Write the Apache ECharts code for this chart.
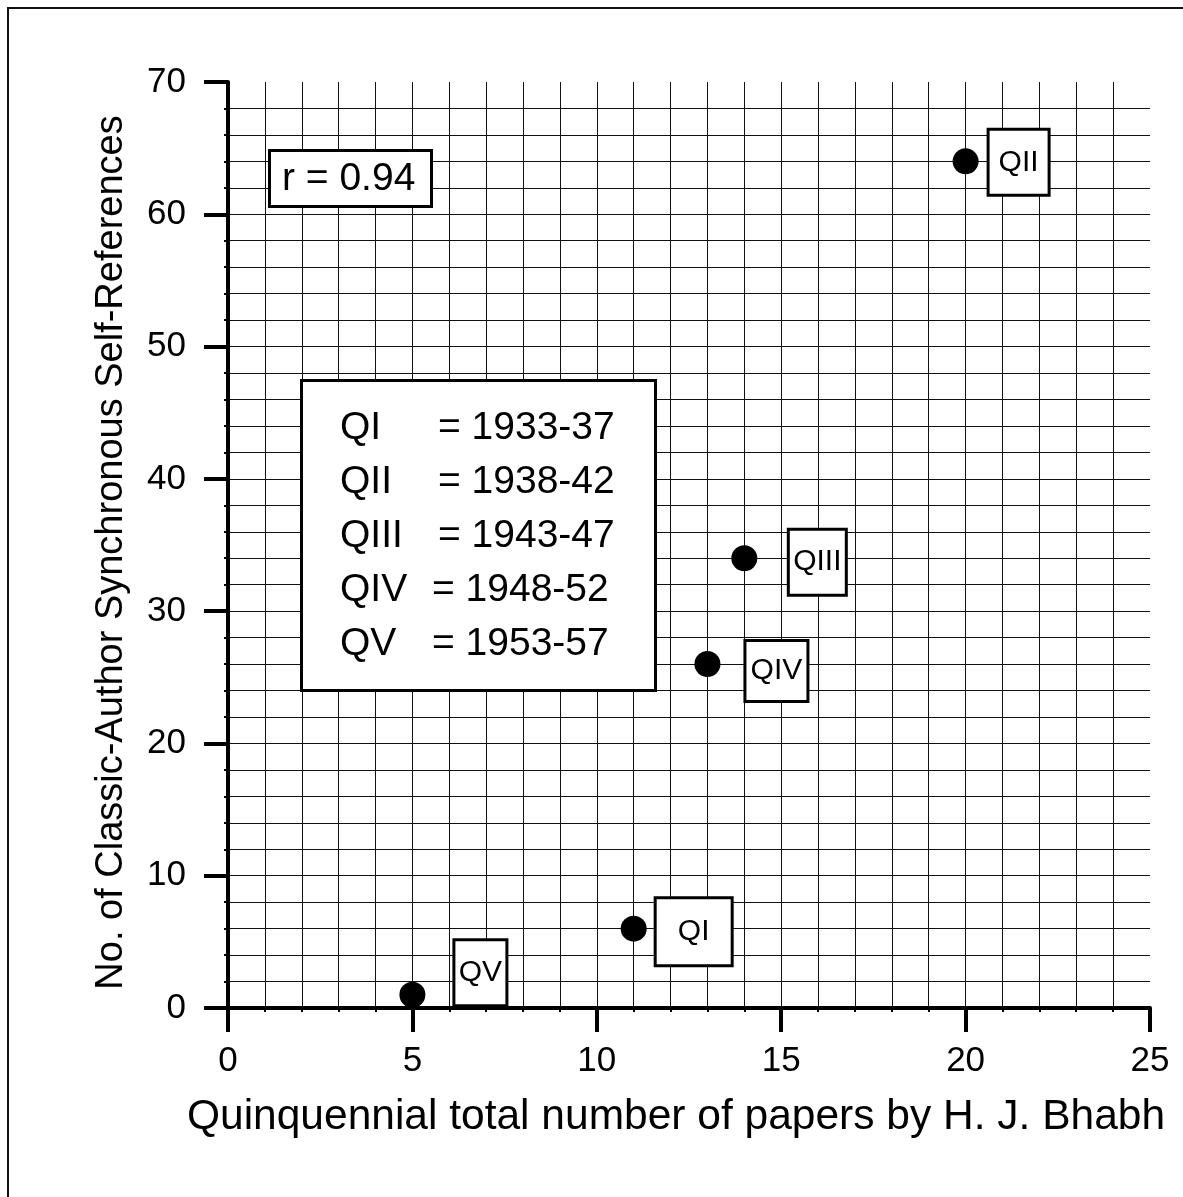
<!DOCTYPE html>
<html><head><meta charset="utf-8">
<script src="https://cdn.jsdelivr.net/npm/echarts@6/dist/echarts.min.js"></script>
<style>html,body{margin:0;padding:0;background:#fff}#c{width:1183px;height:1197px}</style>
</head><body><div id="c"></div><script>
// ---- data ----
const periods = ['QI', 'QII', 'QIII', 'QIV', 'QV'];
const papers = [11, 20, 14, 13, 5];
const selfRefs = [6, 64, 34, 26, 1];
const periodYears = ['1933-37', '1938-42', '1943-47', '1948-52', '1953-57'];
const rText = 'r = 0.94';
const xName = 'Quinquennial total number of papers by H. J. Bhabh';
const yName = 'No. of Classic-Author Synchronous Self-References';
const xMin = 0, xMax = 25, xStep = 5;
const yMin = 0, yMax = 70, yStep = 10;

// ---- styling (label box offsets from point centre, box outer size) ----
const boxStyle = {
  QI:   {dx: 60, dy: 3,   w: 77, h: 68},
  QII:  {dx: 53, dy: 1,   w: 61, h: 66},
  QIII: {dx: 73, dy: 4,   w: 58, h: 66},
  QIV:  {dx: 69, dy: 7,   w: 63, h: 61},
  QV:   {dx: 68, dy: -22, w: 53, h: 66}
};
const FONT = '"Liberation Sans", Arial, sans-serif';
const SYM = 26;

const seriesData = periods.map((p, i) => {
  const b = boxStyle[p];
  return {
    name: p,
    value: [papers[i], selfRefs[i]],
    label: {
      show: true,
      formatter: '{b}',
      position: [SYM / 2 + b.dx, SYM / 2 + b.dy],
      align: 'center',
      verticalAlign: 'middle',
      width: b.w - 3,
      height: b.h - 3,
      lineHeight: b.h - 3,
      padding: 0,
      backgroundColor: '#fff',
      borderColor: '#000',
      borderWidth: 3,
      color: '#000',
      textBorderWidth: 0,
      fontSize: 30,
      fontFamily: FONT
    }
  };
});

const legendTexts = [];
periods.forEach((p, i) => {
  const cy = 428 + 54 * i;
  legendTexts.push({type: 'text', left: 340, top: cy - 19, z: 101,
    style: {text: p, fontSize: 39, fontFamily: FONT, fill: '#000'}});
  legendTexts.push({type: 'text', left: i < 3 ? 438 : 432, top: cy - 19, z: 101,
    style: {text: '= ' + periodYears[i], fontSize: 39, fontFamily: FONT, fill: '#000'}});
});

const chart = echarts.init(document.getElementById('c'), null, {renderer: 'canvas'});
chart.setOption({
  backgroundColor: '#fff',
  animation: false,
  grid: {left: 228, top: 82, right: 33, bottom: 189, containLabel: false},
  xAxis: {
    type: 'value', min: xMin, max: xMax, interval: xStep,
    axisLine: {show: true, onZero: false, lineStyle: {color: '#000', width: 4}},
    axisTick: {show: true, length: 24, lineStyle: {color: '#000', width: 4}},
    minorTick: {show: true, splitNumber: 5, length: 4, lineStyle: {color: '#000', width: 2}},
    splitLine: {show: true, showMaxLine: false, lineStyle: {color: '#111', width: 1}},
    minorSplitLine: {show: true, lineStyle: {color: '#111', width: 1}},
    axisLabel: {color: '#000', fontSize: 35, margin: 36, fontFamily: FONT},
    name: xName, nameLocation: 'middle', nameGap: 88,
    nameTextStyle: {color: '#000', fontSize: 42.5, fontFamily: FONT, padding: [0, 26, 0, 0]}
  },
  yAxis: {
    type: 'value', min: yMin, max: yMax, interval: yStep,
    axisLine: {show: true, onZero: false, lineStyle: {color: '#000', width: 4}},
    axisTick: {show: true, length: 24, lineStyle: {color: '#000', width: 4}},
    minorTick: {show: true, splitNumber: 5, length: 4, lineStyle: {color: '#000', width: 2}},
    splitLine: {show: true, showMaxLine: false, lineStyle: {color: '#111', width: 1}},
    minorSplitLine: {show: true, lineStyle: {color: '#111', width: 1}},
    axisLabel: {color: '#000', fontSize: 35, margin: 42, fontFamily: FONT},
    name: yName, nameLocation: 'middle', nameGap: 97, nameRotate: 90,
    nameTextStyle: {color: '#000', fontSize: 38, fontFamily: FONT, padding: [0, 15, 0, 0]}
  },
  series: [{
    type: 'scatter',
    symbol: 'circle',
    symbolSize: SYM,
    itemStyle: {color: '#000', opacity: 1},
    emphasis: {disabled: true},
    data: seriesData,
    z: 5
  }],
  graphic: [
    {type: 'line', z: 100, shape: {x1: 7, y1: 8, x2: 1183, y2: 8}, style: {stroke: '#111', lineWidth: 2}},
    {type: 'line', z: 100, shape: {x1: 8, y1: 7, x2: 8, y2: 1197}, style: {stroke: '#111', lineWidth: 2}},
    {type: 'rect', z: 100, shape: {x: 269.5, y: 150.5, width: 162, height: 56},
      style: {fill: '#fff', stroke: '#000', lineWidth: 3}},
    {type: 'text', z: 101, left: 282, top: 160,
      style: {text: rText, fontSize: 39, fontFamily: FONT, fill: '#000'}},
    {type: 'rect', z: 100, shape: {x: 301.5, y: 380.5, width: 354, height: 310},
      style: {fill: '#fff', stroke: '#000', lineWidth: 3}},
    ...legendTexts
  ]
});
</script></body></html>
